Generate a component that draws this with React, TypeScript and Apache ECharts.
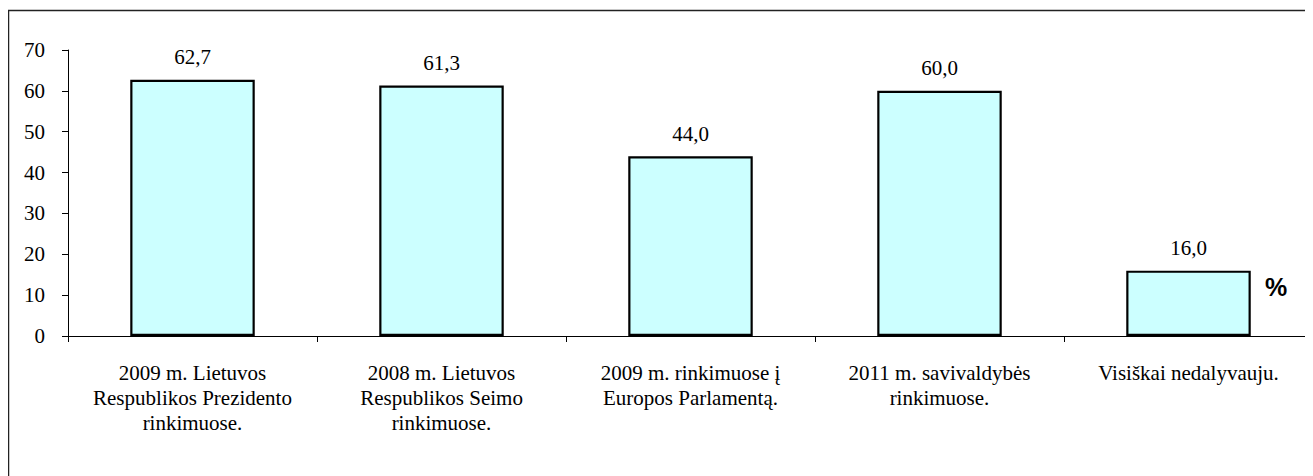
import React, { useEffect, useRef } from "react";
import * as echarts from "echarts";

const categories = [
  "2009 m. Lietuvos\nRespublikos Prezidento\nrinkimuose.",
  "2008 m. Lietuvos\nRespublikos Seimo\nrinkimuose.",
  "2009 m. rinkimuose į\nEuropos Parlamentą.",
  "2011 m. savivaldybės\nrinkimuose.",
  "Visiškai nedalyvauju.",
];
const values = [62.7, 61.3, 44.0, 60.0, 16.0];
const yTicks = { min: 0, max: 70, interval: 10 };
const unitLabel = "%";

const SERIF = "Liberation Serif, Times New Roman, serif";

export default function App() {
  const ref = useRef<HTMLDivElement>(null);
  useEffect(() => {
    if (!ref.current) return;
    const chart = echarts.init(ref.current, undefined, { renderer: "svg" });
    chart.setOption({
      animation: false,
      backgroundColor: "#ffffff",
      grid: { left: 60, top: 42, width: 1252.5, height: 286, containLabel: false },
      xAxis: {
        type: "category",
        data: categories,
        boundaryGap: true,
        axisLine: { show: true, lineStyle: { color: "#000", width: 1 } },
        axisTick: { show: true, length: 6, inside: false, alignWithLabel: false, lineStyle: { color: "#000" } },
        axisLabel: {
          interval: 0,
          margin: 24,
          color: "#000",
          fontFamily: SERIF,
          fontSize: 21,
          lineHeight: 25,
          align: "center",
        },
        splitLine: { show: false },
      },
      yAxis: {
        type: "value",
        min: yTicks.min,
        max: yTicks.max,
        interval: yTicks.interval,
        axisLine: { show: true, lineStyle: { color: "#000", width: 1 } },
        axisTick: { show: true, length: 6, inside: false, lineStyle: { color: "#000" } },
        axisLabel: {
          margin: 23,
          color: "#000",
          fontFamily: SERIF,
          fontSize: 21,
        },
        splitLine: { show: false },
      },
      series: [
        {
          type: "bar",
          data: values,
          barWidth: "50%",
          itemStyle: { color: "#CCFFFF", borderColor: "#000", borderWidth: 2.2 },
          label: {
            show: true,
            position: "top",
            distance: 12,
            color: "#000",
            fontFamily: SERIF,
            fontSize: 21,
            lineHeight: 21,
            formatter: (p: any) => Number(p.value).toFixed(1).replace(".", ","),
          },
        },
      ],
      graphic: [
        {
          type: "rect",
          shape: { x: 0.5, y: 2.5, width: 1400, height: 600 },
          style: { fill: "none", stroke: "#222", lineWidth: 1.5 },
          silent: true,
          z: 100,
        },
        {
          type: "text",
          x: 1268,
          y: 279,
          style: {
            text: unitLabel,
            fill: "#000",
            fontFamily: "Liberation Sans, Arial, sans-serif",
            fontWeight: "bold",
            fontSize: 25,
            align: "center",
            verticalAlign: "middle",
          },
          z: 100,
        },
      ],
    });
    return () => chart.dispose();
  }, []);
  return <div ref={ref} style={{ width: 1305, height: 468 }} />;
}
